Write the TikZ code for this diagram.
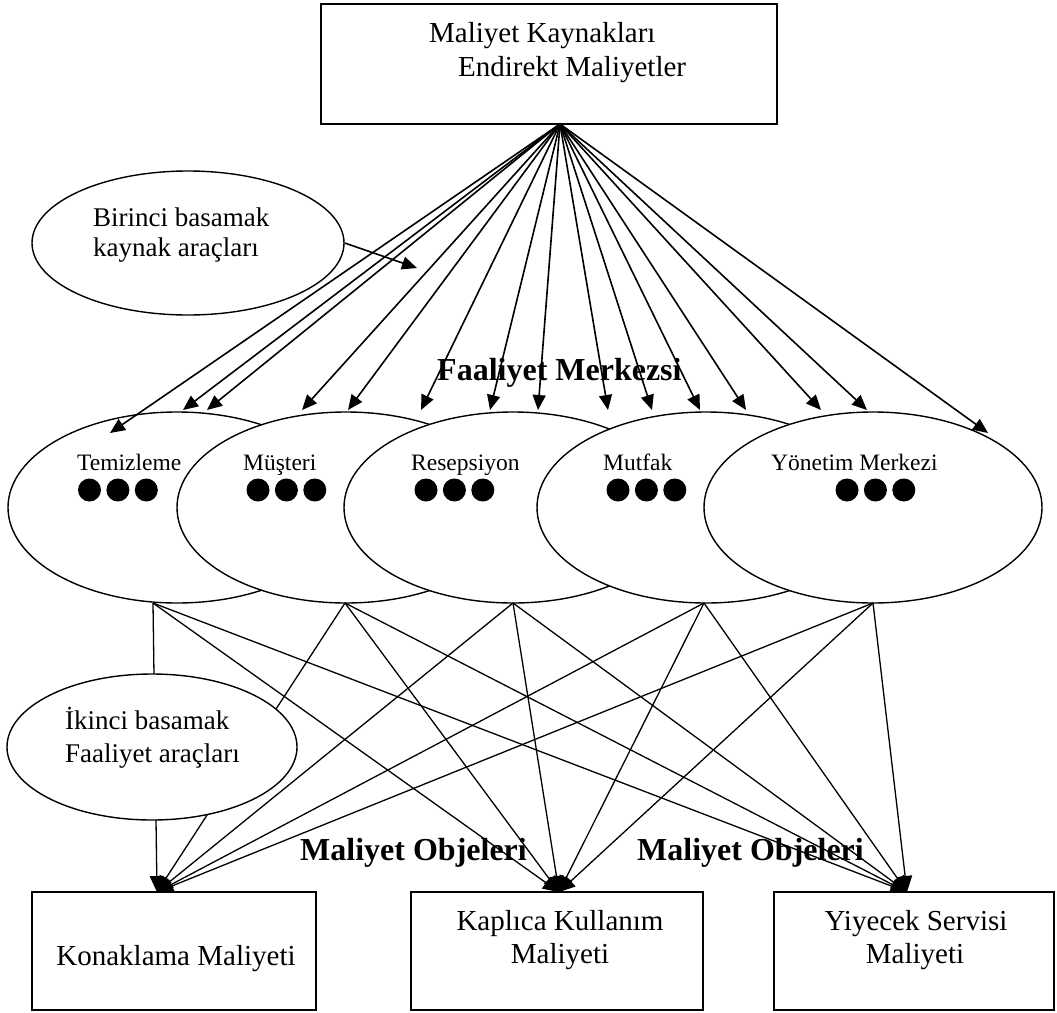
\documentclass[tikz,border=0pt]{standalone}
\usepackage{fontspec}
\setmainfont{Liberation Serif}
\usetikzlibrary{arrows.meta,shapes.geometric}

\begin{document}
\begin{tikzpicture}[x=1pt,y=-1pt,
  box/.style={draw,line width=1.8pt,inner sep=0pt,fill=white},
  oval/.style={ellipse,draw,line width=1.4pt,fill=white,inner sep=0pt},
  fan/.style={line width=1.6pt,-{Triangle[length=15pt,width=13pt]}},
  link/.style={line width=1.3pt,-{Triangle[length=16pt,width=14pt]}},
  txt/.style={inner sep=0pt,anchor=base west,font=\fontsize{29}{34}\selectfont},
  ctxt/.style={inner sep=0pt,anchor=base,font=\fontsize{29}{34}\selectfont},
  small/.style={inner sep=0pt,anchor=base west,font=\fontsize{23.5}{28}\selectfont},
  mid/.style={inner sep=0pt,anchor=base west,font=\fontsize{27}{32}\selectfont},
  head/.style={inner sep=0pt,anchor=base west,font=\fontsize{32}{38}\selectfont\bfseries},
  dot/.style={fill=black}
]
\useasboundingbox (0,0) rectangle (1057,1012);

% cost sources
\node[box,minimum width=456pt,minimum height=120pt] (src) at (549,64) {};
\node[txt] (srcA) at (429,42) {Maliyet Kaynakları};
\node[txt] (srcB) at (458,76) {Endirekt Maliyetler};
\coordinate (hub) at (560,124);

% first-stage drivers
\node[oval,minimum width=312pt,minimum height=144pt] (bir) at (188,243) {};
\node[mid] (birA) at (93,226) {Birinci basamak};
\node[mid] (birB) at (93,256) {kaynak araçları};
\coordinate (birTip) at (417,268);
\draw[fan] (bir.east) -- (birTip);

% activity centres
\foreach \n/\x in {1/177,2/346,3/513,4/706,5/873}
  \node[oval,minimum width=338pt,minimum height=191pt] (c\n) at (\x,507.5) {};

\node[small] (l1) at (77,470) {Temizleme};
\node[small] (l2) at (243,470) {Müşteri};
\node[small] (l3) at (411,470) {Resepsiyon};
\node[small] (l4) at (603,470) {Mutfak};
\node[small] (l5) at (771,470) {Yönetim Merkezi};

\foreach \x in {89.5,258,426,618,847}
  \foreach \k in {0,1,2}
    \fill[dot] (\x+28.4*\k,490) circle (11.5);

\node[head] (fm) at (437,380) {Faaliyet Merkezsi};

% arrows from the cost pool to the centres
\foreach \i/\x/\y in {1/110/433,2/183/410,3/207/410,4/302/410,5/348/410,
                      6/421/410,7/490/410,8/538/410,9/608/410,10/652/410,
                      11/700/410,12/746/410,13/821/410,14/867/410,15/988/433}
{
  \coordinate (f\i) at (\x,\y);
  \draw[fan] (hub) -- (f\i);
}

% second-stage links to the cost objects
\coordinate (s1) at (153,603);
\coordinate (s2) at (345,603);
\coordinate (s3) at (513,603);
\coordinate (s4) at (704,603);
\coordinate (s5) at (873,603);
\coordinate (t1) at (157,892);
\coordinate (t2) at (559,892);
\coordinate (t3) at (907,892);
\foreach \s in {1,...,5}
  \foreach \t in {1,2,3}
    \draw[link] (s\s) -- (t\t);

\node[oval,minimum width=290pt,minimum height=146pt] (iki) at (152,747) {};
\node[mid] (ikiA) at (65,729) {İkinci basamak};
\node[mid] (ikiB) at (65,762) {Faaliyet araçları};

\node[head] (mo1) at (300,860) {Maliyet Objeleri};
\node[head] (mo2) at (637,860) {Maliyet Objeleri};

% cost objects
\node[box,minimum width=284pt,minimum height=118pt] (kon) at (174,951) {};
\node[ctxt] (konA) at (176,965) {Konaklama Maliyeti};
\node[box,minimum width=292pt,minimum height=118pt] (kap) at (557,951) {};
\node[ctxt] (kapA) at (560,930) {Kaplıca Kullanım};
\node[ctxt] (kapB) at (560,963) {Maliyeti};
\node[box,minimum width=280pt,minimum height=118pt] (yiy) at (914,951) {};
\node[ctxt] (yiyA) at (916,930) {Yiyecek Servisi};
\node[ctxt] (yiyB) at (915,963) {Maliyeti};
\end{tikzpicture}
\end{document}
